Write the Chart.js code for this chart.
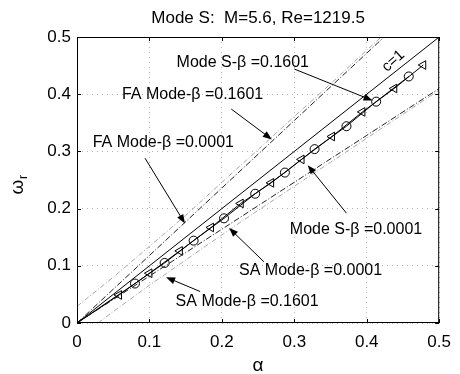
<!DOCTYPE html>
<html>
<head>
<meta charset="utf-8">
<script src="https://cdn.jsdelivr.net/npm/chart.js@4.4.1/dist/chart.umd.min.js"></script>
<style>
  body { margin: 0; background: #fff; }
  #wrap { width: 460px; height: 374px; }
</style>
</head>
<body>
<div id="wrap"><canvas id="chart"></canvas></div>
<script>
const FONT = '"Liberation Sans", Arial, Helvetica, sans-serif';

// phase speed c = 1 reference line
const alphaC1 = [0, 0.5];
const omegaC1 = [0, 0.5];

// fast acoustic branches
const alphaFA0001 = [0, 0.1, 0.2, 0.3, 0.424];
const omegaFA0001 = [0, 0.118, 0.236, 0.354, 0.5];
const alphaFA1601 = [0, 0.05, 0.1, 0.15, 0.2, 0.25, 0.3, 0.35, 0.4, 0.42];
const omegaFA1601 = [0.029, 0.080, 0.134, 0.188, 0.246, 0.303, 0.361, 0.418, 0.477, 0.5];

// slow acoustic branches
const alphaSA0001 = [0, 0.1, 0.2, 0.3, 0.4, 0.5];
const omegaSA0001 = [0, 0.082, 0.164, 0.246, 0.328, 0.41];
const alphaSA1601 = [0.029, 0.05, 0.1, 0.15, 0.2, 0.25, 0.3, 0.35, 0.4, 0.45, 0.5];
const omegaSA1601 = [0, 0.020, 0.066, 0.110, 0.154, 0.197, 0.239, 0.281, 0.323, 0.365, 0.407];

// Mode S, computed points
const alphaS0001 = [0, 0.058, 0.100, 0.142, 0.185, 0.226, 0.268, 0.310, 0.352, 0.394, 0.438, 0.478];
const omegaS0001 = [0, 0.049, 0.087, 0.126, 0.167, 0.209, 0.245, 0.286, 0.326, 0.369, 0.410, 0.451];
const alphaS1601 = [0, 0.080, 0.121, 0.161, 0.203, 0.246, 0.287, 0.328, 0.372, 0.413, 0.458];
const omegaS1601 = [0, 0.069, 0.105, 0.144, 0.183, 0.226, 0.263, 0.304, 0.344, 0.387, 0.431];

const xTicks = [0, 0.1, 0.2, 0.3, 0.4, 0.5];
const yTicks = [0, 0.1, 0.2, 0.3, 0.4, 0.5];

// label text, text anchor (left, middle) and arrow tail -> head, in axis units
const notes = [
    { text: 'Mode S-\u03b2 =0.1601', at: [0.1375, 0.456], from: [0.300, 0.444], to: [0.408, 0.389] },
    { text: 'FA Mode-\u03b2 =0.1601', at: [0.062, 0.399], from: [0.213, 0.374], to: [0.269, 0.321] },
    { text: 'FA Mode-\u03b2 =0.0001', at: [0.0216, 0.315], from: [0.094, 0.288], to: [0.149, 0.174] },
    { text: 'Mode S-\u03b2 =0.0001', at: [0.2938, 0.163], from: [0.372, 0.192], to: [0.3185, 0.276] },
    { text: 'SA Mode-\u03b2 =0.0001', at: [0.2237, 0.091], from: [0.258, 0.107], to: [0.210, 0.166] },
    { text: 'SA Mode-\u03b2 =0.1601', at: [0.1361, 0.037], from: [0.170, 0.055], to: [0.123, 0.080] },
];

const zip = (xs, ys) => xs.map((x, i) => ({ x, y: ys[i] }));

function curve(xs, ys, color, dash, width) {
    return {
        data: zip(xs, ys),
        borderColor: color,
        borderDash: dash,
        borderWidth: width,
        pointRadius: 0,
        fill: false,
        tension: 0,
    };
}

function markedCurve(xs, ys, style, radius, rotation) {
    return {
        data: zip(xs, ys),
        borderColor: '#000',
        borderWidth: 1,
        pointStyle: style,
        pointRotation: rotation,
        pointRadius: (c) => (c.dataIndex === 0 ? 0 : radius),
        pointBackgroundColor: 'rgba(0,0,0,0)',
        pointBorderColor: '#000',
        pointBorderWidth: 1,
        fill: false,
        tension: 0,
    };
}

function drawArrow(ctx, x0, y0, x1, y1) {
    const ang = Math.atan2(y1 - y0, x1 - x0);
    const len = 9, half = 3.5;
    ctx.beginPath();
    ctx.moveTo(x0, y0);
    ctx.lineTo(x1 - Math.cos(ang) * len * 0.8, y1 - Math.sin(ang) * len * 0.8);
    ctx.stroke();
    ctx.beginPath();
    ctx.moveTo(x1, y1);
    ctx.lineTo(x1 - Math.cos(ang) * len - Math.sin(ang) * half, y1 - Math.sin(ang) * len + Math.cos(ang) * half);
    ctx.lineTo(x1 - Math.cos(ang) * len + Math.sin(ang) * half, y1 - Math.sin(ang) * len - Math.cos(ang) * half);
    ctx.closePath();
    ctx.fill();
}

// frame, inward ticks, labels and titles
const decorations = {
    id: 'decorations',
    afterDatasetsDraw(chart) {
        const { ctx, chartArea: a, scales: { x, y } } = chart;
        ctx.save();
        ctx.strokeStyle = '#000';
        ctx.fillStyle = '#000';
        ctx.lineWidth = 1;
        ctx.setLineDash([]);

        ctx.strokeRect(a.left + 0.5, a.top + 0.5, a.right - a.left - 1, a.bottom - a.top - 1);
        ctx.beginPath();
        xTicks.forEach(v => {
            const px = Math.round(x.getPixelForValue(v)) + 0.5;
            ctx.moveTo(px, a.bottom); ctx.lineTo(px, a.bottom - 4);
            ctx.moveTo(px, a.top); ctx.lineTo(px, a.top + 4);
        });
        yTicks.forEach(v => {
            const py = Math.round(y.getPixelForValue(v)) + 0.5;
            ctx.moveTo(a.left, py); ctx.lineTo(a.left + 4, py);
            ctx.moveTo(a.right, py); ctx.lineTo(a.right - 4, py);
        });
        ctx.stroke();

        ctx.font = '16px ' + FONT;
        ctx.textBaseline = 'middle';
        ctx.textAlign = 'left';
        notes.forEach(n => {
            ctx.fillText(n.text, x.getPixelForValue(n.at[0]), y.getPixelForValue(n.at[1]));
            drawArrow(ctx,
                x.getPixelForValue(n.from[0]), y.getPixelForValue(n.from[1]),
                x.getPixelForValue(n.to[0]), y.getPixelForValue(n.to[1]));
        });

        // c=1 tag along the reference line
        ctx.save();
        ctx.translate(x.getPixelForValue(0.4367), y.getPixelForValue(0.458));
        ctx.rotate(-42 * Math.PI / 180);
        ctx.textAlign = 'center';
        ctx.font = '15px ' + FONT;
        ctx.fillText('c=1', 0, 0);
        ctx.restore();

        // title
        ctx.textAlign = 'center';
        ctx.font = '17px ' + FONT;
        ctx.fillText('Mode S:  M=5.6, Re=1219.5', (a.left + a.right) / 2, 18);

        // axis titles
        ctx.font = '19px ' + FONT;
        ctx.fillText('\u03b1', (a.left + a.right) / 2, 366);
        ctx.save();
        ctx.translate(23, 187);
        ctx.rotate(-Math.PI / 2);
        ctx.textBaseline = 'alphabetic';
        ctx.fillText('\u03c9', 0, 0);
        ctx.font = '12px ' + FONT;
        ctx.textAlign = 'left';
        ctx.fillText('r', 8, 4);
        ctx.restore();

        ctx.restore();
    },
};

const gridOpts = { color: '#b4b4b4', lineWidth: 1, drawTicks: false };
const tickFont = { family: FONT, size: 17 };

new Chart(document.getElementById('chart'), {
    type: 'line',
    data: {
        datasets: [
            curve(alphaC1, omegaC1, '#000', [], 1),
            curve(alphaFA1601, omegaFA1601, '#a8a8a8', [5, 2, 1, 2], 1),
            curve(alphaFA0001, omegaFA0001, '#222', [6, 2, 1, 2], 1),
            curve(alphaSA1601, omegaSA1601, '#a8a8a8', [5, 2, 1, 2], 1),
            curve(alphaSA0001, omegaSA0001, '#222', [6, 2, 1, 2], 1),
            markedCurve(alphaS1601, omegaS1601, 'circle', 4.5, 0),
            markedCurve(alphaS0001, omegaS0001, 'triangle', 5, 270),
        ],
    },
    options: {
        responsive: true,
        maintainAspectRatio: false,
        animation: false,
        devicePixelRatio: 1,
        layout: { padding: { top: 37, right: 12, left: 0, bottom: 0 } },
        plugins: { legend: { display: false }, tooltip: { enabled: false } },
        scales: {
            x: {
                type: 'linear',
                min: 0,
                max: 0.5,
                afterBuildTicks: (s) => { s.ticks = xTicks.map(v => ({ value: v })); },
                afterFit: (s) => { s.height = 51; },
                grid: gridOpts,
                border: { display: false, dash: [1, 4] },
                ticks: {
                    color: '#000',
                    font: tickFont,
                    padding: 9,
                    maxRotation: 0,
                    callback: (v) => (v === 0 ? '0' : v.toFixed(1)),
                },
            },
            y: {
                type: 'linear',
                min: 0,
                max: 0.5,
                afterBuildTicks: (s) => { s.ticks = yTicks.map(v => ({ value: v })); },
                afterFit: (s) => { s.width = 77; },
                grid: gridOpts,
                border: { display: false, dash: [1, 4] },
                ticks: {
                    color: '#000',
                    font: tickFont,
                    padding: 6,
                    callback: (v) => (v === 0 ? '0' : v.toFixed(1)),
                },
            },
        },
    },
    plugins: [decorations],
});
</script>
</body>
</html>
